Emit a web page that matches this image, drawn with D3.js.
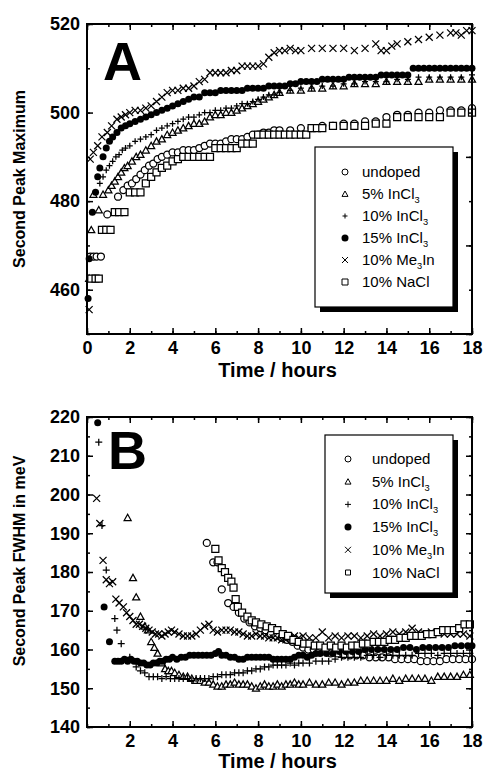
<!DOCTYPE html>
<html><head><meta charset="utf-8">
<script src="https://cdn.jsdelivr.net/npm/d3@7"></script>
<style>
html,body{margin:0;padding:0;background:#fff;}
svg{display:block;font-family:"Liberation Sans",Arial,sans-serif;}
</style></head><body>
<script>
// ---------- Panel A data : Second Peak Maximum ----------
const xTicksA = [0,2,4,6,8,10,12,14,16,18];
const yTicksA = [460,480,500,520];
const xTicksB = [2,4,6,8,10,12,14,16,18];
const yTicksB = [140,150,160,170,180,190,200,210,220];

const tA_undoped = [0.15,0.3,0.45,0.65,0.95,1.45,1.7,1.9,2.1,2.3,2.5,2.7,2.9,3.1,3.3,3.5,3.75,4.0,4.25,4.5,4.75,5.0,5.25,5.5,5.75,6.0,6.25,6.5,6.75,7.0,7.25,7.5,7.75,8.0,8.25,8.5,8.75,9.0,9.5,10,10.5,11,11.5,12,12.5,13,13.5,14,14.5,15,15.5,16,16.5,17,17.5,18];
const vA_undoped = [467.5,467.5,467.5,467.5,477,481,482.5,483.5,484,485,486,487,488,488.5,489.5,490,490.5,491,491,491.5,491.5,491.5,492,492.5,493,493,493,493.5,494,494,494,494.5,495,495,495.5,495.5,496,496,496,496.5,496.5,497,497,497.5,497.5,498,498,499,499.5,499.5,500,500,500.5,500.5,500.5,501];

const tA_in5 = [0.1,0.2,0.3,0.55,0.75,1.0,1.15,1.3,1.45,1.6,1.75,1.9,2.1,2.3,2.5,2.75,3.0,3.25,3.5,3.75,4.0,4.25,4.5,4.75,5.0,5.25,5.5,5.75,6.0,6.25,6.5,6.75,7.0,7.25,7.5,7.75,8.0,8.25,8.5,8.75,9,9.5,10,10.5,11,11.5,12,12.5,13,13.5,14,14.5,15,15.5,16,16.5,17,17.5,18];
const vA_in5 = [462.5,473.5,481.5,478,481.5,482.5,483.5,484.5,485.5,486.5,487.5,488,489,490,490.5,491.5,492.5,493.5,494,495,495.5,496,496.5,497,497.5,497.5,498,499,499.5,499.5,500,500,500.5,501,501.5,502,502.5,503,503.5,504,504.5,505,505,505.5,505.5,506,506,506.5,506.5,506.5,507,507,507,507,507.5,507.5,507.5,507.5,507.5];

const tA_in10 = [0.6,0.75,0.9,1.05,1.2,1.35,1.5,1.65,1.8,2.0,2.25,2.5,2.75,3.0,3.25,3.5,3.75,4.0,4.25,4.5,4.75,5.0,5.25,5.5,5.75,6.0,6.25,6.5,6.75,7.0,7.25,7.5,7.75,8.0,8.25,8.5,8.75,9.0,9.5,10,10.5,11,11.5,12,12.5,13,13.5,14,14.5,15,15.5,16,16.5,17,17.5,18];
const vA_in10 = [484,485.5,487,488,489,490,490.5,491.5,492,492.5,493.5,494,494.5,495,496,496.5,497,497.5,498,498.5,499,499,499.5,500,500,500.5,500.5,501,501,501.5,502,502,502.5,503,503.5,504,504,504.5,505,505.5,505.5,506,506,506.5,506.5,507,507,507,507.5,507.5,508,508,508,508,508,508.5];

const tA_in15 = [0.05,0.1,0.25,0.4,0.5,0.6,0.75,0.9,1.05,1.2,1.4,1.6,1.8,2.0,2.25,2.5,2.75,3.0,3.25,3.5,3.75,4.0,4.25,4.5,4.75,5.0,5.25,5.5,5.75,6,6.25,6.5,6.75,7,7.25,7.5,7.75,8,8.25,8.5,8.75,9,9.25,9.5,9.75,10,10.25,10.5,10.75,11,11.25,11.5,11.75,12,12.25,12.5,12.75,13,13.25,13.5,13.75,14,14.25,14.5,14.75,15,15.25,15.5,15.75,16,16.25,16.5,16.75,17,17.25,17.5,17.75,18];
const vA_in15 = [458,467,477.5,482,485.5,487.5,490,492,493.5,494.5,495.5,496.5,497,497.5,498,498.5,499,499.5,500,500.5,501,501.5,502,502.5,503,503.5,503.5,504.5,504.5,504.5,505,505,505,505,505,505.5,505.5,505.5,505.5,506,506,506,506,506.5,506.5,507,507,507,507,507.5,507.5,507.5,507.5,507.5,508,508,508,508,508,508,508.5,508.5,508.5,508.5,508.5,508.5,510,510,510,510,510,510,510,510,510,510,510,510];

const tA_me3 = [0.1,0.15,0.3,0.5,0.7,0.95,1.15,1.4,1.6,1.8,2.0,2.25,2.5,2.75,3.0,3.25,3.5,3.75,4.0,4.25,4.5,4.75,5.0,5.25,5.5,5.75,6.0,6.25,6.5,6.75,7.0,7.25,7.5,7.75,8.0,8.25,8.5,8.75,9,9.25,9.5,9.75,10,10.5,11,11.5,12,12.5,13,13.5,13.75,14,14.25,14.5,15,15.5,16,16.5,17,17.25,17.5,17.75,18];
const vA_me3 = [455.5,489.5,491,492.5,494.5,495.5,497,498.5,499,499.5,500,500.5,500.5,501,501.5,502.5,503.5,504.5,505,505,505.5,505.5,506,507,507.5,509,509,509,509,509.5,509.5,510.5,510.5,510.5,510.5,511,512.5,513.5,514,514,514.5,514,514,514.5,514.5,514.5,514.5,514,514.5,515.5,514,514,515,515.5,516,516.5,517,517.5,518,518,517.5,518.5,518.5];

const tA_nacl = [0.2,0.4,0.55,0.7,0.9,1.1,1.3,1.5,1.75,2.0,2.25,2.5,2.75,3.0,3.25,3.5,3.75,4.0,4.25,4.5,4.75,5.0,5.25,5.5,5.75,6.0,6.25,6.5,6.75,7.0,7.25,7.5,7.75,8.0,8.25,8.5,8.75,9.0,9.25,9.5,9.75,10,10.25,10.5,10.75,11,11.5,12,12.5,13,13.5,14,14.5,15,15.5,16,16.5,17,17.5,18];
const vA_nacl = [462.5,462.5,462.5,473.5,473.5,473.5,477.5,477.5,477.5,482,482,482,484,485.5,486.5,487.5,488,489,489.5,490,490,490,490,490,490,492,492,492,492,492,493,493,493,495,495,495,495,495,495,495,495,495,495,496.5,496.5,496.5,497,497,497,497,497.5,497.5,499,499,499,499,499,500,500,500];

// ---------- Panel B data : Second Peak FWHM (meV) ----------
const tB_undoped = [5.6,5.9,6.1,6.3,6.6,6.85,7.1,7.35,7.6,7.85,8.1,8.35,8.6,8.85,9.1,9.35,9.6,9.85,10.1,10.35,10.6,10.85,11.1,11.4,11.7,12,12.3,12.6,12.9,13.2,13.5,13.8,14.1,14.4,14.7,15,15.3,15.6,15.9,16.2,16.5,16.8,17.1,17.4,17.7,18];
const vB_undoped = [187.5,182.5,182.5,175.5,172,171,169.5,168,167,166,165.5,165,164,163.5,163,162.5,162,161,160.5,160,160,159.5,159.5,159,159,158.5,158.5,158.5,158.5,158,158,158,158,157.5,157.5,157.5,157.5,157,157,157,157,157.5,157.5,157.5,157.5,157.5];

const tB_in5 = [1.9,2.15,2.3,2.5,2.7,2.85,3.0,3.15,3.3,3.5,3.65,3.8,3.95,4.1,4.3,4.5,4.7,4.9,5.1,5.3,5.5,5.7,5.9,6.1,6.3,6.5,6.7,6.9,7.1,7.3,7.5,7.7,7.9,8.1,8.3,8.5,8.7,8.9,9.1,9.3,9.5,9.7,9.9,10.1,10.4,10.7,11,11.3,11.6,11.9,12.2,12.5,12.8,13.1,13.4,13.7,14,14.3,14.6,14.9,15.2,15.5,15.8,16.1,16.4,16.7,17,17.3,17.6,17.9];
const vB_in5 = [194,178.5,173.5,168.5,166,165,162,160.5,159,156.5,155,154.5,154.5,154,153.5,153,153,152.5,152,152,151.5,151.5,151,150.5,150.5,151,151,151.5,151,151,151,150.5,150,150.5,151,150.5,150.5,151,150.5,151,151,151.5,151,151,151.5,151,151,151.5,151.5,151,151.5,151.5,152,152,152,152,152,152.5,152,152.5,152.5,152.5,152.5,152,153,153,153,153,153.5,153.5];

const tB_in10 = [0.55,0.7,0.9,1.3,1.4,1.6,2.0,2.3,2.5,2.7,2.9,3.1,3.3,3.5,3.7,3.9,4.1,4.3,4.5,4.7,4.9,5.1,5.3,5.5,5.7,5.9,6.1,6.3,6.5,6.7,6.9,7.1,7.3,7.5,7.7,7.9,8.1,8.3,8.5,8.7,8.9,9.1,9.3,9.5,9.7,9.9,10.1,10.4,10.7,11,11.3,11.6,11.9,12.2,12.5,12.8,13.1,13.4,13.7,14,14.3,14.6,14.9,15.2,15.5,15.8,16.1,16.4,16.7,17,17.3,17.6,17.9];
const vB_in10 = [213.5,192,180.5,168,165,161.5,158,155.5,154.5,154,153,153,153,152.5,153,152.5,152.5,152.5,152.5,152.5,152,152.5,152.5,152.5,152.5,153,153,153.5,153.5,153.5,154,154,154,154.5,154.5,155,155,155.5,155.5,156,156,156,156,156.5,156,156.5,156.5,156.5,157,157,157,157.5,158,158,158,158,158.5,158.5,158,158.5,158.5,158.5,158.5,158.5,159,159,159,158.5,159,159,159,159,159];

const tB_in15 = [0.5,0.8,1.05,1.3,1.45,1.6,1.75,1.9,2.05,2.2,2.35,2.5,2.65,2.8,2.95,3.1,3.25,3.4,3.55,3.7,3.85,4.0,4.2,4.4,4.6,4.8,5.0,5.2,5.4,5.6,5.8,6.0,6.15,6.3,6.5,6.7,6.9,7.1,7.3,7.5,7.7,7.9,8.1,8.3,8.5,8.7,8.9,9.1,9.3,9.5,9.7,9.9,10.1,10.3,10.5,10.7,10.9,11.2,11.5,11.8,12.1,12.4,12.7,13,13.3,13.6,13.9,14.2,14.5,14.8,15.1,15.4,15.7,16,16.3,16.6,16.9,17.2,17.5,17.8,18];
const vB_in15 = [218.5,171,162,157,157,157,157.5,157,157.5,157,157,156.5,156.5,156,156,156.5,156.5,157,157,157.5,157.5,158,157.5,158,158,158.5,158.5,158.5,158.5,158.5,158.5,159,159.5,158.5,158.5,158,158,157.5,157.5,158,158,158,158,158,158,157.5,157.5,157.5,157.5,157.5,158,158.5,158.5,158,158.5,159,159,159,159,159.5,159.5,159.5,159.5,160,160,160,160,160,160,160.5,160.5,160,160.5,160.5,160.5,160.5,160.5,161,161,161,161];

const tB_me3 = [0.45,0.6,0.75,0.9,1.05,1.2,1.35,1.5,1.7,1.85,2.0,2.15,2.3,2.45,2.6,2.75,2.9,3.05,3.2,3.35,3.5,3.65,3.8,3.95,4.1,4.3,4.5,4.7,4.9,5.1,5.3,5.5,5.7,5.9,6.1,6.3,6.5,6.7,6.9,7.1,7.3,7.5,7.7,7.9,8.1,8.3,8.5,8.7,8.9,9.1,9.3,9.5,9.7,9.9,10.1,10.4,10.7,11,11.3,11.6,11.9,12.2,12.5,12.8,13.1,13.4,13.7,14,14.3,14.6,14.9,15.2,15.5,15.8,16.1,16.4,16.7,17,17.3,17.6,17.9];
const vB_me3 = [199,192.5,183,178,177,177.5,173,172,171,169.5,168.5,167.5,166.5,166.5,166,165.5,165,164.5,164,164,163.5,164,164.5,165,164.5,164,163.5,163.5,163.5,164,165,166,166.5,165,164.5,165,165,165,164.5,164.5,164,163.5,163.5,164,163.5,163.5,163,163,163,162.5,162.5,163,163.5,163,163.5,163,163,164.5,163,163.5,163,163.5,163.5,163,163.5,164,163.5,164,164.5,164,164.5,165.5,164.5,164,164.5,164.5,164,164,164,164,163.5];

const tB_nacl = [6.0,6.15,6.3,6.45,6.6,6.75,6.85,6.95,7.05,7.25,7.5,7.7,7.9,8.15,8.4,8.65,8.9,9.15,9.4,9.65,9.9,10.15,10.4,10.65,10.9,11.15,11.4,11.65,11.9,12.15,12.4,12.65,12.9,13.15,13.4,13.65,13.9,14.15,14.4,14.65,14.9,15.15,15.4,15.65,15.9,16.15,16.4,16.65,16.9,17.15,17.4,17.65,17.9];
const vB_nacl = [186,183,181,180,178.5,177.5,176,173,171,169.5,168.5,167.5,167,166.5,166,165.5,165,164,163.5,162.5,162,161.5,161.5,161,161,160.5,161,160.5,161,160.5,161,161,161.5,161.5,162,162,162,162.5,162.5,163,163,163.5,163.5,163.5,164,164,164.5,165,165,165,165.5,166.5,166.5];

const seriesNames = ["undoped","5% InCl3","10% InCl3","15% InCl3","10% Me3In","10% NaCl"];
const seriesSymbols = ["circle","triangle","plus","dot","cross","square"];

// ---------- drawing ----------
const W = 483, H = 774;
const svg = d3.select("body").append("svg").attr("width", W).attr("height", H);
const FONT = '"Liberation Sans", Arial, sans-serif';

function symbolPath(type, s) {
  const h = s / 2;
  switch (type) {
    case "triangle": return `M0,${-h}L${h},${h*0.8}L${-h},${h*0.8}Z`;
    case "plus": return `M${-h},0L${h},0M0,${-h}L0,${h}`;
    case "cross": return `M${-h},${-h}L${h},${h}M${-h},${h}L${h},${-h}`;
    case "square": return `M${-h},${-h}H${h}V${h}H${-h}Z`;
  }
}

function drawMarker(g, type, x, y, s, sw) {
  sw = sw || 1.2;
  if (type === "circle") {
    g.append("circle").attr("cx", x).attr("cy", y).attr("r", s/2).attr("fill", "#fff").attr("stroke", "#000").attr("stroke-width", sw);
  } else if (type === "dot") {
    g.append("circle").attr("cx", x).attr("cy", y).attr("r", s/2).attr("fill", "#000");
  } else {
    const filled = (type === "triangle" || type === "square");
    g.append("path").attr("transform", `translate(${x},${y})`).attr("d", symbolPath(type, s))
      .attr("fill", filled ? "#fff" : "none").attr("stroke", "#000").attr("stroke-width", sw);
  }
}

function labelText(sel, name, x, y, size) {
  const t = sel.append("text").attr("x", x).attr("y", y).attr("font-size", size).attr("font-family", FONT).attr("fill", "#000");
  if (name.indexOf("InCl3") >= 0) {
    t.append("tspan").text(name.replace("InCl3", "InCl"));
    t.append("tspan").attr("font-size", size*0.62).attr("dy", 4).text("3");
  } else if (name.indexOf("Me3In") >= 0) {
    t.append("tspan").text(name.replace("Me3In", "Me"));
    t.append("tspan").attr("font-size", size*0.62).attr("dy", 4).text("3");
    t.append("tspan").attr("dy", -4).text("In");
  } else {
    t.text(name);
  }
}

function panel(cfg) {
  const x = d3.scaleLinear().domain([0, 18]).range([cfg.left, cfg.right]);
  const y = d3.scaleLinear().domain(cfg.ydom).range([cfg.bottom, cfg.top]);
  const g = svg.append("g");

  // data
  const mg = g.append("g");
  cfg.series.forEach((s, i) => {
    const sg = mg.append("g");
    s.t.forEach((tv, j) => drawMarker(sg, seriesSymbols[i], x(tv), y(s.v[j]), cfg.msize[i], 1.25));
  });

  // axes: major + minor, inside ticks on all 4 sides
  const styleAx = (a) => {
    a.select(".domain").remove();
    a.selectAll("line").attr("stroke", "#000").attr("stroke-width", 1.5);
    a.selectAll("text").attr("font-family", FONT).attr("font-weight", "bold").attr("font-size", 18).attr("fill", "#000");
  };
  const xMinor = d3.range(0, 19, 1);
  const yMinor = d3.range(cfg.ydom[0], cfg.ydom[1] + 0.001, cfg.yminor);
  const yMajorAll = d3.range(cfg.ydom[0], cfg.ydom[1] + 0.001, cfg.ymajor);

  styleAx(g.append("g").attr("transform", `translate(0,${cfg.bottom})`)
    .call(d3.axisBottom(x).tickValues(xMinor).tickSize(-3).tickFormat("")));
  styleAx(g.append("g").attr("transform", `translate(0,${cfg.bottom})`)
    .call(d3.axisBottom(x).tickValues(cfg.xticks).tickSize(-6).tickPadding(7).tickFormat(d3.format("d"))));
  styleAx(g.append("g").attr("transform", `translate(0,${cfg.top})`)
    .call(d3.axisTop(x).tickValues(xMinor).tickSize(-3).tickFormat("")));
  styleAx(g.append("g").attr("transform", `translate(0,${cfg.top})`)
    .call(d3.axisTop(x).tickValues(d3.range(0, 19, 2)).tickSize(-6).tickFormat("")));
  styleAx(g.append("g").attr("transform", `translate(${cfg.left},0)`)
    .call(d3.axisLeft(y).tickValues(yMinor).tickSize(-3).tickFormat("")));
  styleAx(g.append("g").attr("transform", `translate(${cfg.left},0)`)
    .call(d3.axisLeft(y).tickValues(cfg.yticks).tickSize(-6).tickPadding(7).tickFormat(d3.format("d"))));
  styleAx(g.append("g").attr("transform", `translate(${cfg.right},0)`)
    .call(d3.axisRight(y).tickValues(yMinor).tickSize(-3).tickFormat("")));
  styleAx(g.append("g").attr("transform", `translate(${cfg.right},0)`)
    .call(d3.axisRight(y).tickValues(yMajorAll).tickSize(-6).tickFormat("")));

  // frame
  g.append("rect").attr("x", cfg.left).attr("y", cfg.top).attr("width", cfg.right - cfg.left).attr("height", cfg.bottom - cfg.top)
    .attr("fill", "none").attr("stroke", "#000").attr("stroke-width", 2);

  // panel letter
  g.append("text").attr("x", cfg.letterX).attr("y", cfg.letterY).attr("font-family", FONT).attr("font-weight", "bold")
    .attr("font-size", 54).attr("fill", "#000").text(cfg.letter);

  // axis titles
  g.append("text").attr("x", (cfg.left + cfg.right) / 2 - 2).attr("y", cfg.xTitleY).attr("text-anchor", "middle")
    .attr("font-family", FONT).attr("font-weight", "bold").attr("font-size", 20).attr("fill", "#000").text("Time / hours");
  g.append("text").attr("transform", `translate(${cfg.yTitleX},${cfg.yTitleCY}) rotate(-90)`).attr("text-anchor", "middle")
    .attr("font-family", FONT).attr("font-weight", "bold").attr("font-size", cfg.yTitleSize).attr("fill", "#000").text(cfg.yTitle);

  // legend with shadow
  const L = cfg.legend;
  g.append("rect").attr("x", L.x + 5).attr("y", L.y + 5).attr("width", L.w).attr("height", L.h).attr("fill", "#000");
  g.append("rect").attr("x", L.x).attr("y", L.y).attr("width", L.w).attr("height", L.h).attr("fill", "#fff").attr("stroke", "#000").attr("stroke-width", 1.2);
  seriesNames.forEach((nm, i) => {
    const yy = L.y0 + i * L.dy;
    drawMarker(g, seriesSymbols[i], L.symX, yy, L.msize[i], 1);
    labelText(g, nm, L.textX, yy + 5, 15);
  });
}

panel({
  left: 87, right: 472, top: 24, bottom: 334,
  ydom: [450, 520], yticks: yTicksA, xticks: xTicksA, ymajor: 20, yminor: 10,
  letter: "A", letterX: 103, letterY: 80,
  xTitleY: 377, yTitle: "Second Peak Maximum", yTitleX: 25, yTitleCY: 179, yTitleSize: 16,
  msize: [7, 7, 6, 7, 7, 7],
  series: [
    {t: tA_undoped, v: vA_undoped}, {t: tA_in5, v: vA_in5}, {t: tA_in10, v: vA_in10},
    {t: tA_in15, v: vA_in15}, {t: tA_me3, v: vA_me3}, {t: tA_nacl, v: vA_nacl}
  ],
  legend: {x: 315, y: 147, w: 138, h: 160, symX: 345, textX: 362, y0: 172, dy: 22, msize: [6, 6, 5, 7, 6, 6]}
});

panel({
  left: 87, right: 472, top: 417, bottom: 727,
  ydom: [140, 220], yticks: yTicksB, xticks: xTicksB, ymajor: 10, yminor: 5,
  letter: "B", letterX: 108, letterY: 469,
  xTitleY: 768, yTitle: "Second Peak FWHM in meV", yTitleX: 25, yTitleCY: 561, yTitleSize: 16,
  msize: [7, 7, 7, 7, 7, 7],
  series: [
    {t: tB_undoped, v: vB_undoped}, {t: tB_in5, v: vB_in5}, {t: tB_in10, v: vB_in10},
    {t: tB_in15, v: vB_in15}, {t: tB_me3, v: vB_me3}, {t: tB_nacl, v: vB_nacl}
  ],
  legend: {x: 325, y: 435, w: 128, h: 158, symX: 348, textX: 372, y0: 459, dy: 22.7, msize: [6, 6, 6, 7, 6, 5]}
});
</script>
</body></html>
